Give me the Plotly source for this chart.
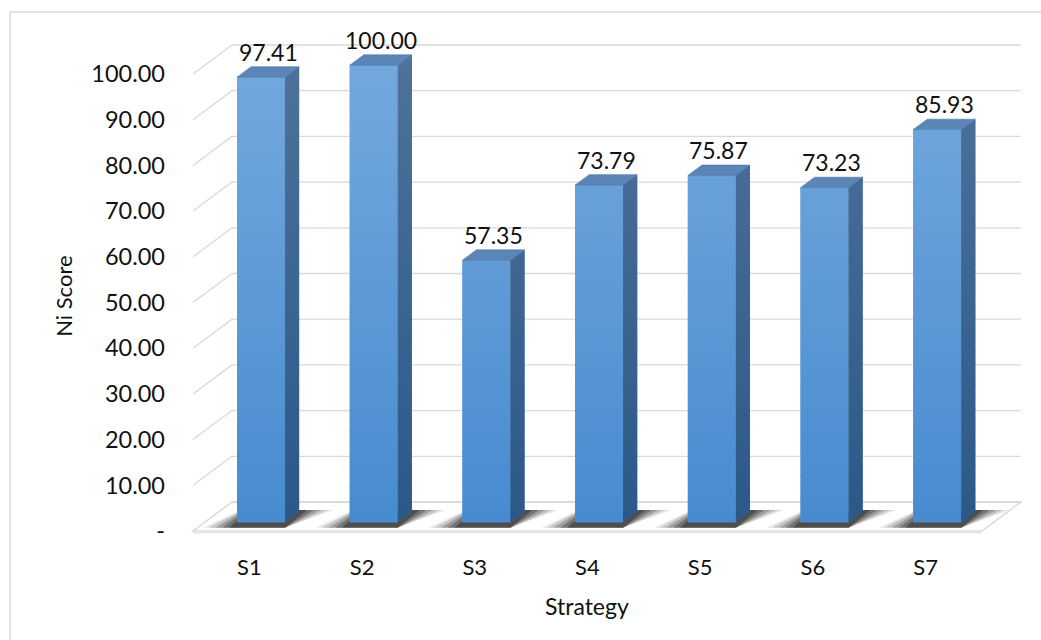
import plotly.graph_objects as go

# ---------------- data ----------------
categories = ["S1", "S2", "S3", "S4", "S5", "S6", "S7"]
scores = [97.41, 100.00, 57.35, 73.79, 75.87, 73.23, 85.93]
score_labels = ["97.41", "100.00", "57.35", "73.79", "75.87", "73.23", "85.93"]
y_ticks = [0, 10, 20, 30, 40, 50, 60, 70, 80, 90, 100]
y_tick_labels = ["-", "10.00", "20.00", "30.00", "40.00", "50.00",
                 "60.00", "70.00", "80.00", "90.00", "100.00"]

# ---------------- style / geometry constants ----------------
DX = 0.346      # depth offset of the back wall (category units)
DY = 6.35       # depth offset of the back wall (value units)
BAR_FRONT = 0.30
BAR_BACK = 0.66
BAR_W = 0.426
FONT = "Lato, 'Open Sans', sans-serif"
GRID = "#D9D9D9"

FRONT_TOP, FRONT_BOT = (0x74, 0xA8, 0xDD), (0x47, 0x8B, 0xD0)
SIDE_TOP, SIDE_BOT = (0x4E, 0x72, 0x9B), (0x2C, 0x59, 0x88)
TOP_FACE = "#5B85B7"


def mix(c1, c2, t):
    return "rgb(%d,%d,%d)" % tuple(round(a + (b - a) * t) for a, b in zip(c1, c2))


def path(pts):
    return "M " + " L ".join("%.4f,%.4f" % p for p in pts) + " Z"


shapes = []

# chart border
shapes.append(dict(type="rect", xref="paper", yref="paper", x0=-0.186, x1=1.2,
                   y0=-0.3, y1=1.0037, line=dict(color=GRID, width=1.5),
                   fillcolor="rgba(0,0,0,0)", layer="below"))

n = len(categories)
# floor
shapes.append(dict(type="path", xref="x", yref="y",
                   path=path([(0, 0), (n, 0), (n + DX, DY), (DX, DY)]),
                   line=dict(color=GRID, width=1.5), fillcolor="white", layer="below"))
shapes.append(dict(type="line", xref="x", yref="y", x0=0, x1=n, y0=-0.35, y1=-0.35,
                   line=dict(color="#E6E6E6", width=2), layer="below"))

# gridlines: left wall diagonals + back wall horizontals
for v in y_ticks:
    if v > 0:
        shapes.append(dict(type="line", xref="x", yref="y", x0=0, y0=v, x1=DX, y1=v + DY,
                           line=dict(color=GRID, width=1.3), layer="below"))
    shapes.append(dict(type="line", xref="x", yref="y", x0=DX, y0=v + DY, x1=n + DX, y1=v + DY,
                       line=dict(color=GRID, width=1.3), layer="below"))

annotations = []
BAND = 2.5
for i, (cat, val, lab) in enumerate(zip(categories, scores, score_labels)):
    c = i + 0.5
    xl, xr = c - BAR_W / 2, c + BAR_W / 2
    fx, fy = BAR_FRONT * DX, BAR_FRONT * DY
    bx, by = BAR_BACK * DX, BAR_BACK * DY

    # shadow on the floor (layered for a soft edge)
    for s, op in [(0.30, 0.10), (0.25, 0.14), (0.19, 0.20), (0.13, 0.26), (0.07, 0.32)]:
        shapes.append(dict(type="path", xref="x", yref="y",
                           path=path([(xl + fx - s, fy - 1.2), (xr + fx, fy - 1.2),
                                      (xr + bx + s, by + 0.4), (xl + bx - s * 0.3, by + 0.4)]),
                           line=dict(width=0), fillcolor="rgba(0,0,0,%.2f)" % op, layer="above"))

    # solid underlay so band seams do not show
    mid_f = mix(FRONT_TOP, FRONT_BOT, 0.5)
    mid_s = mix(SIDE_TOP, SIDE_BOT, 0.5)
    shapes.append(dict(type="rect", xref="x", yref="y", x0=xl + fx, x1=xr + fx,
                       y0=fy, y1=val + fy, line=dict(width=0), fillcolor=mid_f))
    shapes.append(dict(type="path", xref="x", yref="y",
                       path=path([(xr + fx, fy), (xr + bx, by), (xr + bx, val + by), (xr + fx, val + fy)]),
                       line=dict(width=0), fillcolor=mid_s))

    # front and side faces (vertical gradient bands)
    y0 = 0.0
    while y0 < val - 1e-9:
        y1 = min(y0 + BAND, val)
        t = 1 - ((y0 + y1) / 2) / 100.0
        col = mix(FRONT_TOP, FRONT_BOT, t)
        top_ext = 0.3 if y1 < val else 0.0
        shapes.append(dict(type="rect", xref="x", yref="y", x0=xl + fx, x1=xr + fx,
                           y0=y0 + fy, y1=y1 + fy + top_ext, line=dict(width=0), fillcolor=col))
        scol = mix(SIDE_TOP, SIDE_BOT, t)
        shapes.append(dict(type="path", xref="x", yref="y",
                           path=path([(xr + fx, y0 + fy), (xr + bx, y0 + by),
                                      (xr + bx, y1 + by + top_ext), (xr + fx, y1 + fy + top_ext)]),
                           line=dict(width=0), fillcolor=scol))
        y0 = y1

    # top face
    shapes.append(dict(type="path", xref="x", yref="y",
                       path=path([(xl + fx, val + fy), (xr + fx, val + fy),
                                  (xr + bx, val + by), (xl + bx, val + by)]),
                       line=dict(color="#4F79AA", width=0.6), fillcolor=TOP_FACE))

    annotations.append(dict(x=c + (fx + bx) / 2, y=val + by, xref="x", yref="y",
                            text=lab, showarrow=False, yanchor="bottom", yshift=-1,
                            font=dict(family=FONT, size=23, color="#111111")))

# axis titles
annotations.append(dict(x=-0.124, y=0.475, xref="paper", yref="paper", text="Ni Score",
                        textangle=-90, showarrow=False, xanchor="center", yanchor="middle",
                        font=dict(family=FONT, size=22, color="#111111")))
annotations.append(dict(x=0.485, y=-0.101, xref="paper", yref="paper", text="Strategy",
                        showarrow=False, xanchor="center", yanchor="middle",
                        font=dict(family=FONT, size=23, color="#111111")))

fig = go.Figure()
# invisible carrier trace keeps the data on the axes for hover
fig.add_trace(go.Scatter(x=[i + 0.5 for i in range(n)], y=scores, mode="markers",
                         marker=dict(opacity=0), hoverinfo="x+y", showlegend=False))

L, R, T, B = 170, 11, 14, 88
W, H = 1041, 640
px_x = 112.7
px_y = 4.57
x0_px = 193
y0_px = 531
xmin = -(x0_px - L) / px_x
xmax = xmin + (W - L - R) / px_x
plot_bottom = H - B
ymin = -(plot_bottom - y0_px) / px_y
ymax = ymin + (H - T - B) / px_y

fig.update_layout(
    width=W, height=H, margin=dict(l=L, r=R, t=T, b=B),
    paper_bgcolor="white", plot_bgcolor="white",
    shapes=shapes, annotations=annotations, showlegend=False,
    xaxis=dict(range=[xmin, xmax], tickvals=[i + 0.5 for i in range(n)], ticktext=categories,
               showgrid=False, zeroline=False, showline=False, ticks="",
               tickfont=dict(family=FONT, size=22, color="#111111"), fixedrange=True),
    yaxis=dict(range=[ymin, ymax], tickvals=y_ticks, ticktext=y_tick_labels,
               showgrid=False, zeroline=False, showline=False, ticks="",
               tickfont=dict(family=FONT, size=23.5, color="#111111"), fixedrange=True,
               ticklabelstandoff=4),
)

fig.write_html("out.html")
